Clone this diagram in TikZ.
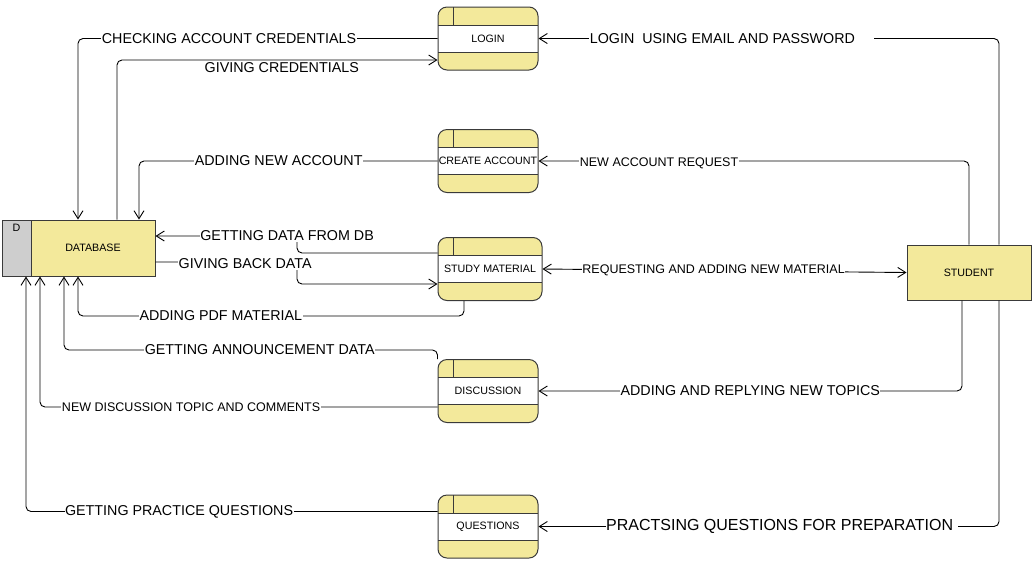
\documentclass[tikz,border=0pt]{standalone}
\usepackage{fontspec}
\setmainfont{Liberation Sans}
\usetikzlibrary{arrows.meta}
\definecolor{dfdyellow}{HTML}{F3E99B}
\definecolor{taggray}{HTML}{CECECE}
\definecolor{boxline}{HTML}{3A3A3A}
\newcommand\boxfont{\fontsize{10.7}{12}\selectfont}
\newcommand\flowfont{\fontsize{14.3}{16}\selectfont}
\newcommand\smallflowfont{\fontsize{12.5}{14}\selectfont}
\newcommand\bigflowfont{\fontsize{16}{18}\selectfont}
\begin{document}
\begin{tikzpicture}[x=1pt,y=-1pt,
  procbox/.style={draw=boxline, fill=dfdyellow, line width=1pt, rounded corners=9pt,
    minimum width=100pt, minimum height=63pt, inner sep=0pt, font=\boxfont,
    path picture={
      \fill[white,sharp corners] ([yshift=-18pt]path picture bounding box.north west) rectangle ([yshift=18pt]path picture bounding box.south east);
      \draw[boxline,line width=1pt,sharp corners] ([yshift=-18pt]path picture bounding box.north west) -- ([yshift=-18pt]path picture bounding box.north east);
      \draw[boxline,line width=1pt,sharp corners] ([yshift=18pt]path picture bounding box.south west) -- ([yshift=18pt]path picture bounding box.south east);
      \draw[boxline,line width=1pt,sharp corners] ([xshift=15pt]path picture bounding box.north west) -- ([xshift=15pt,yshift=-18pt]path picture bounding box.north west);
    }},
  entity/.style={draw=boxline, fill=dfdyellow, line width=1pt, inner sep=0pt, font=\boxfont},
  flow/.style={line width=0.9pt, rounded corners=5pt, -{Straight Barb[length=8pt,width=10pt]}},
  flowlbl/.style={fill=white, inner xsep=0.5pt, inner ysep=1pt, font=\flowfont, sharp corners}]
\useasboundingbox (0,0) rectangle (1035,566);
%%% data store
\node[entity, fill=taggray, minimum width=29pt, minimum height=56pt,
  label={[font=\boxfont, anchor=north, inner sep=4pt]north:D}] (dbtag) at (16.5,248) {};
\node[entity, minimum width=124pt, minimum height=56pt] (db) at (93,248) {\raisebox{-2pt}{DATABASE}};
%%% processes
\node[procbox] (login) at (488,38.5) {LOGIN};
\node[procbox] (newacc) at (488,161) {CREATE ACCOUNT};
\node[procbox, minimum width=104pt] (studymat) at (490,269) {STUDY MATERIAL};
\node[procbox] (disc) at (488,391) {DISCUSSION};
\node[procbox] (quest) at (488,526.5) {QUESTIONS};
%%% external entity
\node[entity, minimum width=124pt, minimum height=55pt] (student) at (969,272.5) {STUDENT};
%%% flows into the data store
\draw[flow] (login.west) -| node[flowlbl, pos=0.29] {CHECKING ACCOUNT CREDENTIALS} ([xshift=-15pt]db.north);
\draw[flow] ([xshift=24pt]db.north) |- node[flowlbl, fill=none, below=1pt, pos=0.757] {GIVING CREDENTIALS} ([yshift=-21.5pt]login.west);
\draw[flow] (newacc.west) -| node[flowlbl, pos=0.266] {ADDING NEW ACCOUNT} ([xshift=46pt]db.north);
\draw[flow] ([yshift=16pt]studymat.west) -| (297,236) -- node[flowlbl, pos=0.07] {GETTING DATA FROM DB} ([yshift=12pt]db.east);
\draw[flow] ([yshift=-14pt]db.east) -| node[flowlbl, yshift=-2pt, pos=0.317] {GIVING BACK DATA} (297,284) -- ([yshift=-15pt]studymat.west);
\draw[flow] ([xshift=-26pt]studymat.south) -- ++(0,15) -| node[flowlbl, pos=0.315] {ADDING PDF MATERIAL} ([xshift=-15pt]db.south);
\draw[flow] (disc.north west) -- ++(0,-9) -| node[flowlbl, pos=0.238] {GETTING ANNOUNCEMENT DATA} ([xshift=-29pt]db.south);
\draw[flow] ([yshift=-16pt]disc.west) -| node[flowlbl, font=\smallflowfont, pos=0.31] {NEW DISCUSSION TOPIC AND COMMENTS} ([xshift=-53pt]db.south);
\draw[flow] ([yshift=15pt]quest.west) -| node[flowlbl, pos=0.314] {GETTING PRACTICE QUESTIONS} ([xshift=9.5pt]dbtag.south);
%%% flows from the student
\draw[flow] ([xshift=30pt]student.north) |- node[flowlbl, pos=0.79] {LOGIN\ \ USING EMAIL AND PASSWORD\hspace*{19pt}} (login.east);
\draw[flow] (student.north) |- node[flowlbl, font=\smallflowfont, yshift=-2pt, pos=0.86] {NEW ACCOUNT REQUEST} (newacc.east);
\draw[flow, {Straight Barb[length=8pt,width=10pt]}-{Straight Barb[length=8pt,width=10pt]}] (studymat.east) -- node[flowlbl, font=\smallflowfont, pos=0.47] {REQUESTING AND ADDING NEW MATERIAL} (student.west);
\draw[flow] ([xshift=-7pt]student.south) |- node[flowlbl, pos=0.75] {ADDING AND REPLYING NEW TOPICS} (disc.east);
\draw[flow] ([xshift=30pt]student.south) |- node[flowlbl, font=\bigflowfont, pos=0.736] {PRACTSING QUESTIONS FOR PREPARATION\hspace*{4pt}} (quest.east);
\end{tikzpicture}
\end{document}
